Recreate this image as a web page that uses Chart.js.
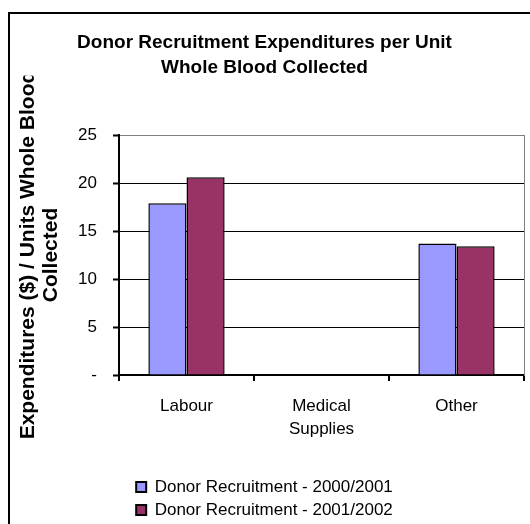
<!DOCTYPE html>
<html>
<head>
<meta charset="utf-8">
<script src="https://cdn.jsdelivr.net/npm/chart.js@4.4.1/dist/chart.umd.min.js"></script>
<style>
  html, body { margin: 0; padding: 0; background: #ffffff; }
  #wrap { width: 530px; height: 524px; position: relative; }
</style>
</head>
<body>
<div id="wrap"><canvas id="c" width="530" height="524"></canvas></div>
<script>
// ---- data ----
const categories = [['Labour'], ['Medical', 'Supplies'], ['Other']];
const seriesNames = ['Donor Recruitment - 2000/2001', 'Donor Recruitment - 2001/2002'];
const values2000 = [17.9, 0, 13.7];
const values2001 = [20.6, 0, 13.4];
const yTickValues = [0, 5, 10, 15, 20, 25];
const yTickLabels = ['-', '5', '10', '15', '20', '25'];
const chartTitle = ['Donor Recruitment Expenditures per Unit', 'Whole Blood Collected'];
const yAxisTitle = ['Expenditures ($) / Units Whole Blood', 'Collected'];

const FONT = "'Liberation Sans', Arial, Helvetica, sans-serif";

// frame + white background
const framePlugin = {
  id: 'frame',
  beforeDraw(chart) {
    const ctx = chart.ctx;
    ctx.save();
    ctx.fillStyle = '#ffffff';
    ctx.fillRect(0, 0, chart.width, chart.height);
    ctx.strokeStyle = '#000000';
    ctx.lineWidth = 2;
    ctx.strokeRect(9, 13, 700, 700);
    ctx.restore();
  }
};

// y-axis title, clipped like the original
const yTitlePlugin = {
  id: 'yTitle',
  afterDraw(chart) {
    const ctx = chart.ctx;
    const area = chart.chartArea;
    const cy = (area.top + area.bottom) / 2;
    ctx.save();
    ctx.beginPath();
    ctx.rect(0, 75.5, 112, chart.height - 75.5);
    ctx.clip();
    ctx.translate(28, cy);
    ctx.rotate(-Math.PI / 2);
    ctx.fillStyle = '#000000';
    ctx.font = 'bold 21px ' + FONT;
    ctx.textAlign = 'center';
    ctx.textBaseline = 'middle';
    yAxisTitle.forEach((t, i) => ctx.fillText(t, 0, i * 23));
    ctx.restore();
  }
};

new Chart(document.getElementById('c'), {
  type: 'bar',
  data: {
    labels: categories,
    datasets: [
      { label: seriesNames[0], data: values2000, backgroundColor: '#9999FF', borderColor: '#000000', borderWidth: 1.5 },
      { label: seriesNames[1], data: values2001, backgroundColor: '#993366', borderColor: '#000000', borderWidth: 1.5 }
    ]
  },
  options: {
    responsive: false,
    animation: false,
    devicePixelRatio: 1,
    layout: { padding: { left: 0, right: 1, top: 0, bottom: 0 } },
    datasets: { bar: { categoryPercentage: 0.565, barPercentage: 1.0 } },
    scales: {
      x: {
        afterFit(s) { s.height = 97.5; },
        grid: { offset: true, drawOnChartArea: false, drawTicks: true, tickLength: 6, color: '#000000', lineWidth: 2 },
        border: { display: true, color: '#000000', width: 2 },
        ticks: { color: '#000000', padding: 13.5, font: { family: FONT, size: 17, lineHeight: 1.35 }, maxRotation: 0, autoSkip: false }
      },
      y: {
        min: 0, max: 25,
        afterFit(s) { s.width = 119; },
        afterBuildTicks(s) { s.ticks = yTickValues.map(v => ({ value: v })); },
        grid: {
          color: (c) => (c.tick && c.tick.value === 25 ? '#808080' : '#000000'),
          tickColor: '#000000', tickLength: 6, tickWidth: 2, lineWidth: 1
        },
        border: { display: true, color: '#000000', width: 2 },
        ticks: {
          color: '#000000', padding: 16,
          font: { family: FONT, size: 17 },
          callback: (v) => yTickLabels[yTickValues.indexOf(v)]
        }
      },
      y2: {
        position: 'right',
        min: 0, max: 25,
        afterFit(s) { s.width = 5; },
        grid: { display: false, drawTicks: false },
        ticks: { display: false },
        border: { display: true, color: '#808080', width: 1 }
      }
    },
    plugins: {
      title: {
        display: true,
        text: chartTitle,
        color: '#000000',
        font: { family: FONT, size: 19, weight: 'bold', lineHeight: 25 / 19 },
        padding: { top: 30, bottom: 55 }
      },
      legend: {
        display: true,
        position: 'bottom',
        align: 'center',
        maxHeight: 51.5,
        labels: {
          color: '#000000',
          boxWidth: 10, boxHeight: 10,
          padding: 6,
          font: { family: FONT, size: 17 },
          generateLabels(chart) {
            const items = Chart.defaults.plugins.legend.labels.generateLabels(chart);
            items.forEach(it => { it.lineWidth = 2; it.strokeStyle = '#000000'; });
            return items;
          }
        }
      },
      tooltip: { enabled: false }
    }
  },
  plugins: [framePlugin, yTitlePlugin]
});
</script>
</body>
</html>
